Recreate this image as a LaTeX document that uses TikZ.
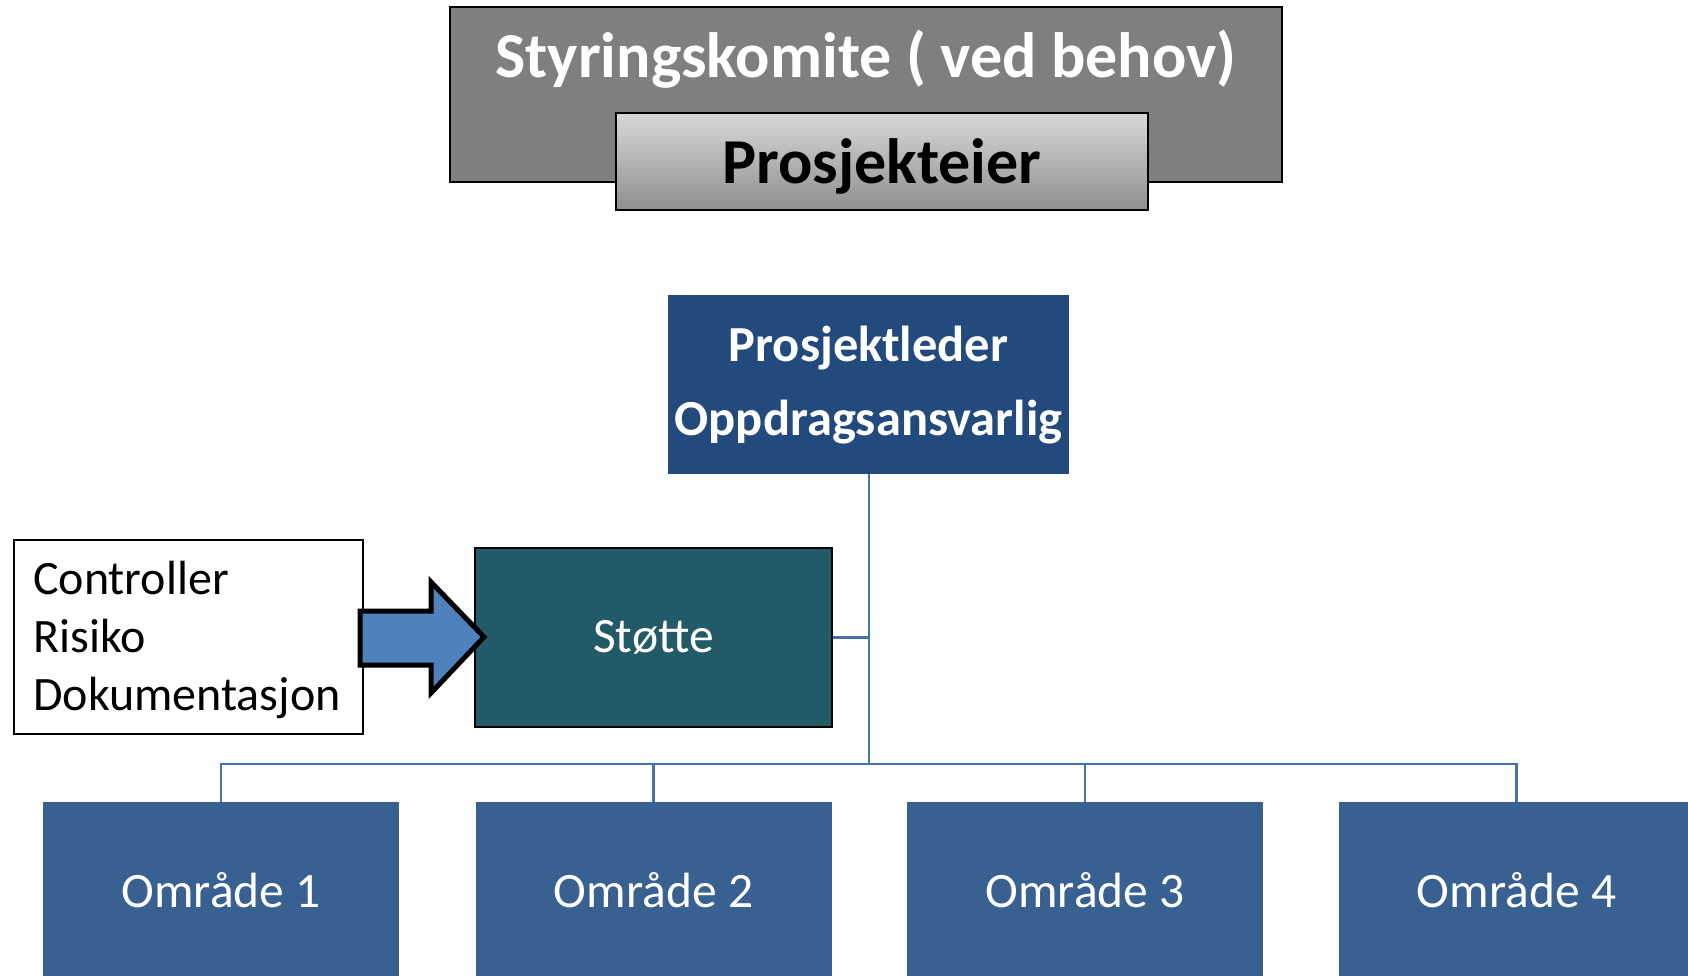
\documentclass[tikz,border=0pt]{standalone}
\usepackage{fontspec}
\setmainfont{Carlito}
\definecolor{komgray}{HTML}{7F7F7F}
\definecolor{eiertop}{HTML}{D9D9D9}
\definecolor{eierbot}{HTML}{8E8E8E}
\definecolor{plblue}{HTML}{224A7D}
\definecolor{stteal}{HTML}{235A68}
\definecolor{omblue}{HTML}{386191}
\definecolor{arrblue}{HTML}{4F81BD}
\definecolor{conn}{HTML}{4672A8}
\begin{document}
\begin{tikzpicture}[x=1pt,y=-1pt,
  box/.style={rectangle,inner sep=0pt,anchor=center},
  conline/.style={draw=conn,line width=2.2pt},
  omrbox/.style={box,fill=omblue,minimum width=356pt,minimum height=176pt,text=white,font=\fontsize{49.5}{58}\selectfont}]
\useasboundingbox (0,0) rectangle (1688,976);
\clip (0,0) rectangle (1688,976);
\fill[white] (0,0) rectangle (1688,976);
% Styringskomite
\node[box,draw=black,line width=2pt,fill=komgray,minimum width=832pt,minimum height=175pt] (kom) at (866,95) {};
\node[box,text=white,font=\bfseries\fontsize{64}{77}\selectfont] (komtxt) at (866,59) {Styringskomite ( ved behov)};
% Prosjekteier
\node[box,draw=black,line width=2pt,top color=eiertop,bottom color=eierbot,minimum width=532pt,minimum height=97pt] (eier) at (882,161.5) {};
\node[box,font=\bfseries\fontsize{64}{77}\selectfont] (eiertxt) at (882,166) {Prosjekteier};
% Prosjektleder
\node[box,fill=plblue,minimum width=401pt,minimum height=179pt] (pl) at (868.5,384.5) {};
\node[box,text=white,align=center,font=\bfseries\fontsize{50.5}{74}\selectfont] (pltxt) at (868.5,385) {Prosjektleder\\Oppdragsansvarlig};
% Controller box
\node[box,draw=black,line width=2pt,fill=white,minimum width=349pt,minimum height=194pt] (ctrl) at (188,636.5) {};
\node[inner sep=0pt,anchor=north west,align=left,font=\fontsize{48}{58}\selectfont] (ctrltxt) at (33,561) {Controller\\Risiko\\Dokumentasjon};
% Stotte
\node[box,draw=black,line width=2pt,fill=stteal,minimum width=357pt,minimum height=179pt,text=white,font=\fontsize{49.5}{58}\selectfont] (stotte) at (653.5,637.5) {Støtte};
% Block arrow
\draw[black,line width=5pt,fill=arrblue,line join=miter] (360,611) -- (431,611) -- (431,582) -- (484,637) -- (431,693) -- (431,665) -- (360,665) -- cycle;
% Omraader
\node[omrbox] (o1) at (221,890) {Område 1};
\node[omrbox] (o2) at (653.5,890) {Område 2};
\node[omrbox] (o3) at (1085,890) {Område 3};
\node[omrbox] (o4) at (1516.5,890) {Område 4};
% connectors
\coordinate (bar) at (869,764);
\draw[conline] (pl.south -| bar) -- (bar);
\draw[conline] (stotte.east) -- (stotte.east -| bar);
\draw[conline] (bar) -| (o1.north);
\draw[conline] (bar) -| (o2.north);
\draw[conline] (bar) -| (o3.north);
\draw[conline] (bar) -| (o4.north);
\end{tikzpicture}
\end{document}
